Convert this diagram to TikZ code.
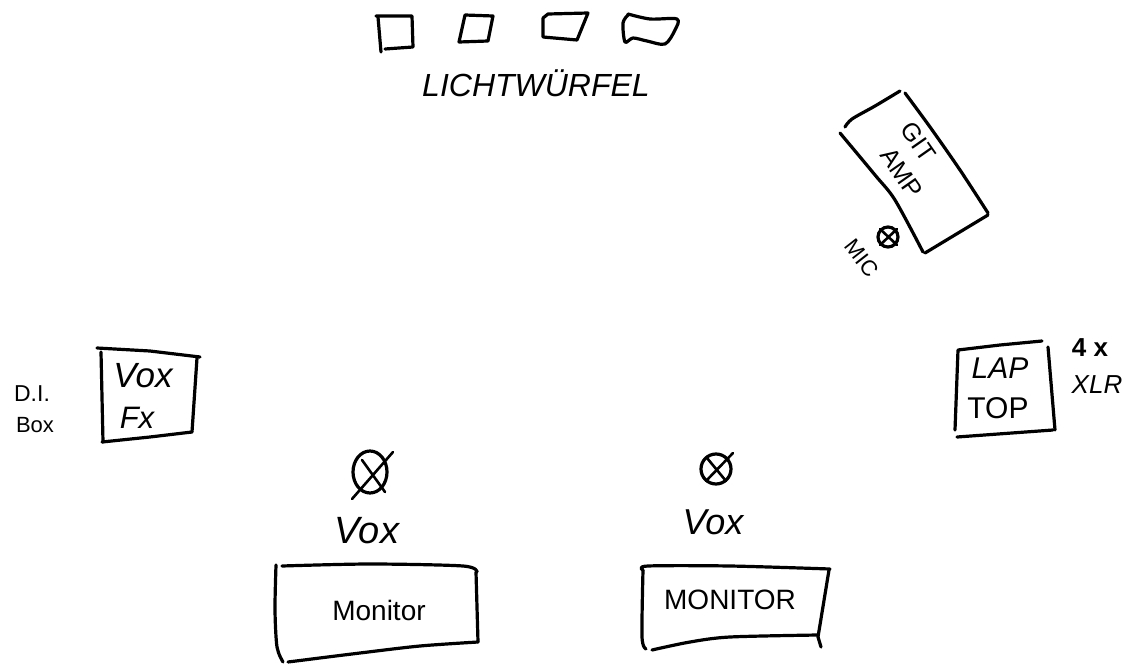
\documentclass[tikz,border=0pt]{standalone}
\usepackage{fontspec}
\setmainfont{Liberation Sans}
\tikzset{
  pen/.style={draw=black,line width=3.2pt,line cap=round,line join=round},
  thinpen/.style={draw=black,line width=2.6pt,line cap=round,line join=round},
  hand/.style={inner sep=0pt,text=black,font=\fontsize{#1}{#1}\selectfont},
  handi/.style={inner sep=0pt,text=black,font=\fontsize{#1}{#1}\selectfont\itshape}
}
\begin{document}
\begin{tikzpicture}[x=1pt,y=-1pt]
\useasboundingbox[fill=white] (0,0) rectangle (1128,664);
% light cubes
\draw[pen] (376,16) -- (412,16) -- (413,47) -- (385,49);
\draw[pen] (378,17) -- (381,52);
\draw[pen] (465,15) -- (493,16) -- (488,41) -- (459,42) -- (465,15);
\draw[pen] (543,18) -- (543,37) -- (577,40) -- (588,13) -- (548,14) -- (543,18);
\draw[pen] plot[smooth] coordinates {(628,14) (650,19) (677,19) (675,30) (665,44) (647,41) (633,38) (625,42) (623,23) (628,15)};
\node[handi=32] (cubes) at (536,83) {LICHTWÜRFEL};
% guitar amp
\draw[pen] plot[smooth] coordinates {(845,127) (852,119) (875,106) (900,91)};
\draw[pen] plot[smooth] coordinates {(905,93) (930,127) (960,170) (988,213)};
\draw[pen] (988,215) -- (925,253);
\draw[pen] plot[smooth] coordinates {(923,252) (895,200) (875,175) (840,133)};
\node[hand=25,rotate=-55] (git) at (918,142) {GIT};
\node[hand=25,rotate=-55] (amp) at (902,173) {AMP};
% amp mic
\draw[pen] (888,237) circle[radius=10];
\draw[thinpen] (880,229) -- (897,245) (897,229) -- (880,245);
\node[hand=22,rotate=-52] (mic) at (862,258) {MIC};
% vox fx
\draw[pen] (97,348) -- (150,351) -- (200,357);
\draw[pen] (101,352) -- (103,442);
\draw[pen] (102,442) -- (150,437) -- (192,432);
\draw[pen] (197,358) -- (192,432);
\node[handi=35] (voxfx) at (143,376) {Vox};
\node[handi=31] (fx) at (137,418) {Fx};
\node[hand=23] (di) at (32,394) {D.I.};
\node[hand=22] (box) at (35,425) {Box};
% laptop
\draw[pen] (1042,341) -- (1000,345) -- (958,350) -- (955,430);
\draw[pen] (957,437) -- (1053,430);
\draw[pen] (1048,347) -- (1055,430);
\node[handi=30] (lap) at (1000,368) {LAP};
\node[hand=30] (top) at (998,408) {TOP};
\node[hand=26,font=\fontsize{26}{26}\selectfont\bfseries] (fourx) at (1090,348) {4 x};
\node[handi=26] (xlr) at (1097,385) {XLR};
% left mic and monitor
\draw[pen] (370,472) ellipse[x radius=17,y radius=21];
\draw[thinpen] (393,452) -- (352,499) (362,460) -- (385,492);
\node[handi=38] (voxa) at (367,531) {Vox};
\draw[pen] plot[smooth] coordinates {(282,566) (370,564) (463,566) (477,572)};
\draw[pen] (476,572) -- (478,642);
\draw[pen] plot[smooth] coordinates {(478,642) (420,646) (360,653) (288,662)};
\draw[pen] plot[smooth] coordinates {(276,565) (275,610) (277,647) (283,662)};
\node[hand=28] (mona) at (379,610) {Monitor};
% right mic and monitor
\draw[pen] (716,469) circle[radius=15];
\draw[thinpen] (733,453) -- (706,481) (707,458) -- (726,481);
\node[handi=36] (voxb) at (713,522) {Vox};
\draw[pen] plot[smooth] coordinates {(643,570) (648,566) (730,566) (830,569)};
\draw[pen] (829,570) -- (818,637) -- (821,647);
\draw[pen] plot[smooth] coordinates {(652,650) (690,642) (730,637) (818,635)};
\draw[pen] plot[smooth] coordinates {(643,570) (642,637) (646,649)};
\node[hand=28] (monb) at (730,600) {MONITOR};
\end{tikzpicture}
\end{document}
